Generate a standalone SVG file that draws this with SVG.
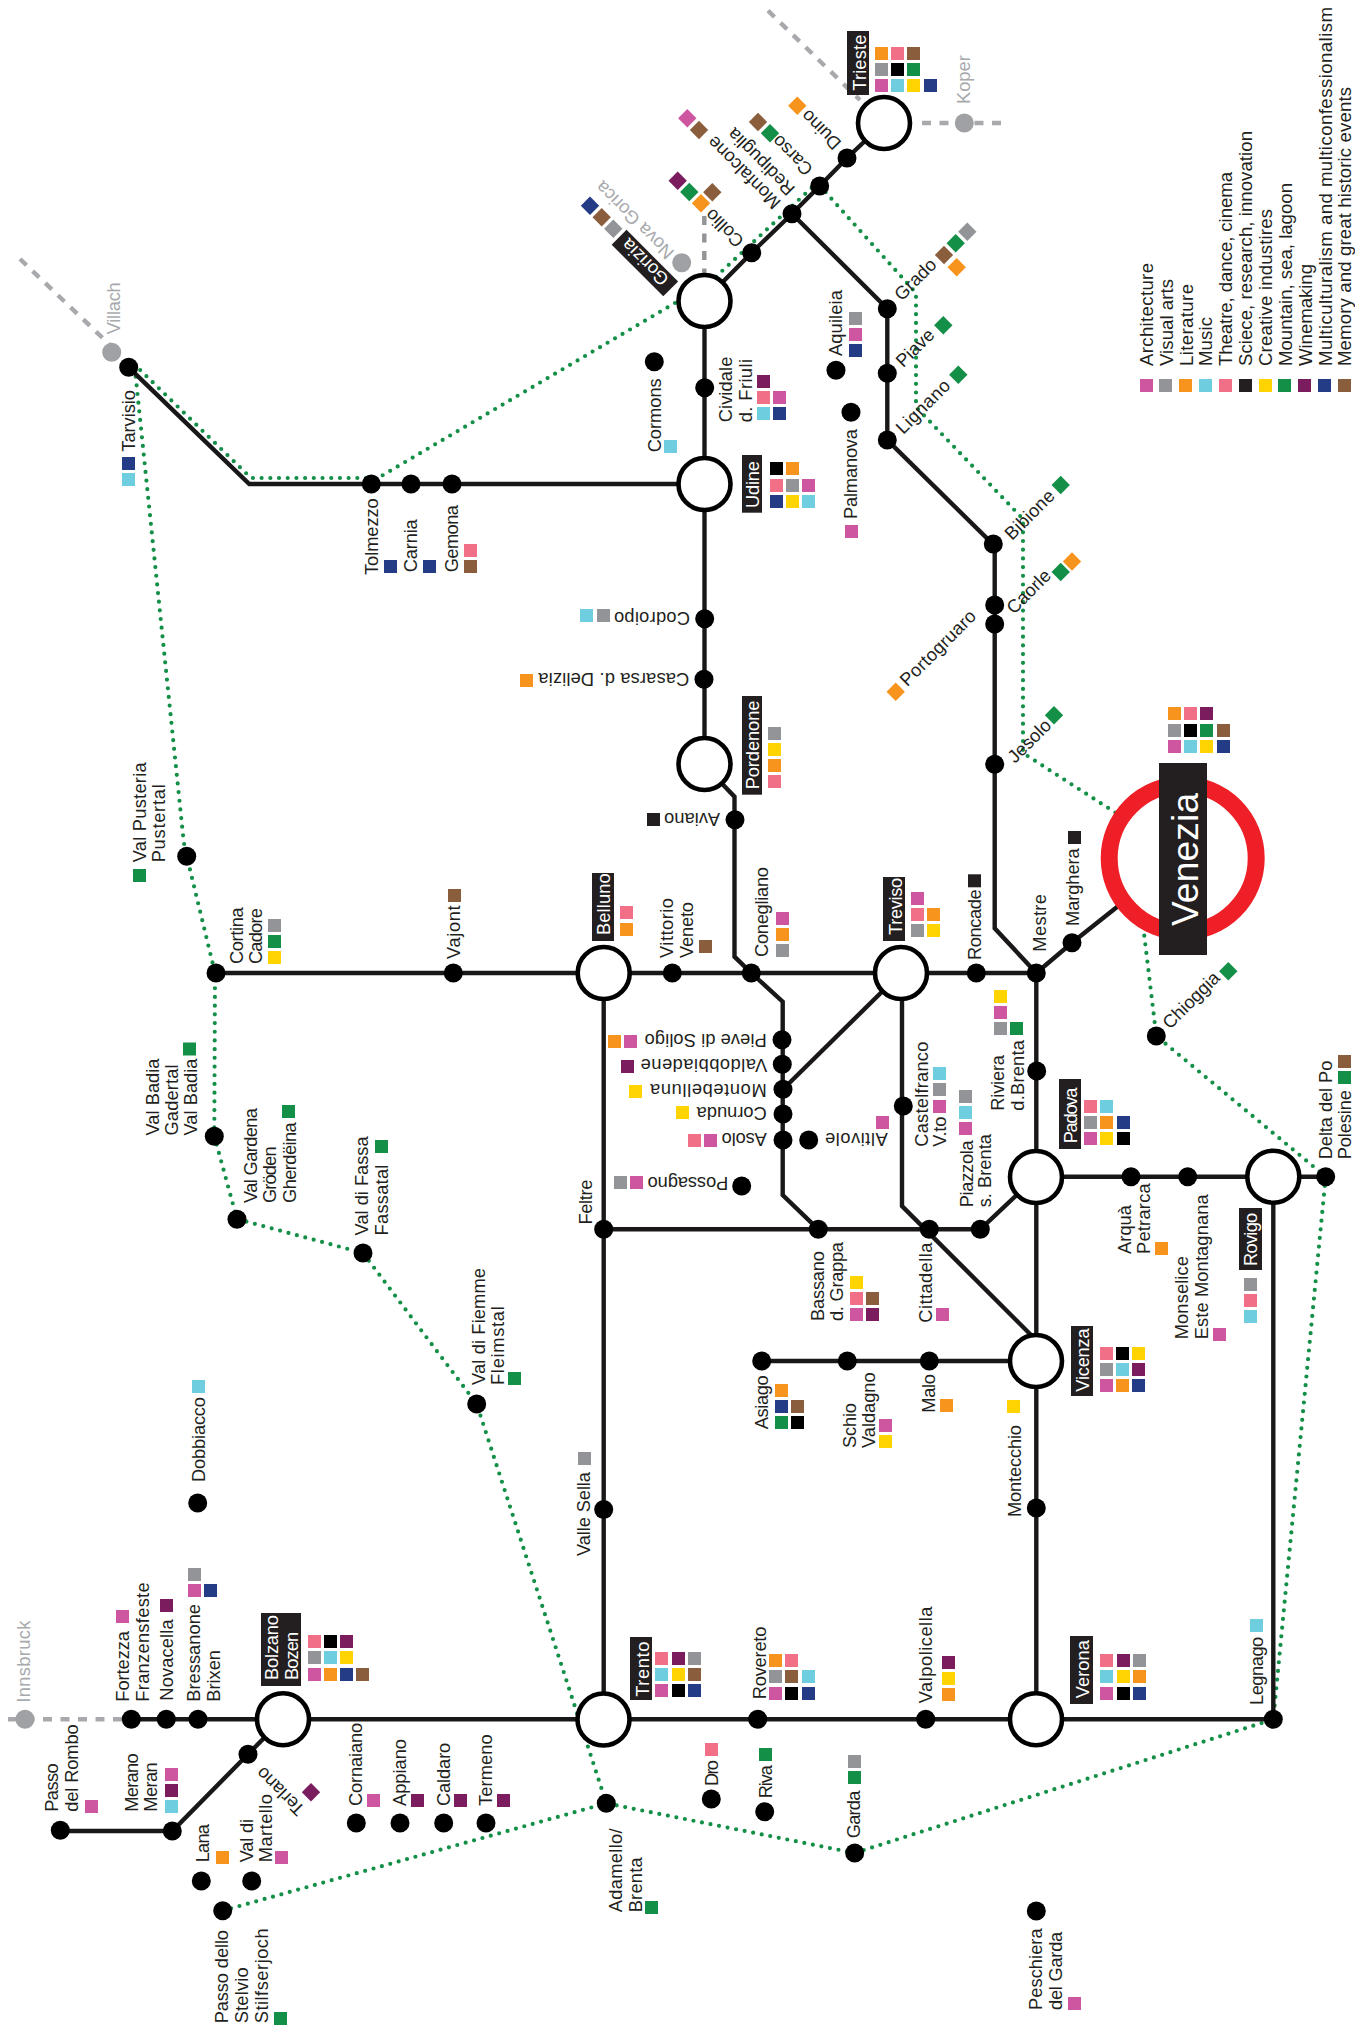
<svg xmlns="http://www.w3.org/2000/svg" width="1355" height="2033" viewBox="0 0 1355 2033">
<style>
text{font-family:"Liberation Sans",Arial,sans-serif;font-size:18.3px;fill:#231f20}
.w{fill:#fff}.g{fill:#a7a9ac}
.lg{font-size:18.6px}
.ln,.da,.dg,.do{fill:none}
.ln{stroke:#1a1718;stroke-width:4.4}
.da{stroke:#a7a9ac;stroke-width:4.4;stroke-dasharray:9 8.5}
.dg{stroke:#929497;stroke-width:4.4;stroke-dasharray:9 8.5}
.do{stroke:#138f47;stroke-width:4.2;stroke-linecap:round;stroke-dasharray:0 8.7}
.st{fill:#fff;stroke:#000;stroke-width:4.6}
.bx{fill:#231f20}
.A{fill:#ce56a0}.V{fill:#929497}.L{fill:#f7941e}.M{fill:#6fcde0}.T{fill:#f27087}.S{fill:#000}.B{fill:#231f20}.C{fill:#ffd400}.N{fill:#138f47}.W{fill:#7a1c5e}.U{fill:#243b85}.H{fill:#8a5e3c}
</style>
<defs>
<rect id="s" width="13" height="13"/>
<rect id="d" x="-6.5" y="-6.5" width="13" height="13" transform="rotate(45)"/>
<circle id="p" r="9.5"/>
<circle id="q" r="9.5" fill="#a0a1a4"/>
<circle id="o" r="26" class="st"/>
</defs>
<g id="connectors">
<path class="do" d="M675 303L378 478L251 478L136 366"/>
<path class="do" d="M135.7 376.7L183.7 841.7L186.7 856L215 973L214.3 1136L237 1219L363 1253L476.7 1404L606.3 1803.3"/>
<path class="do" d="M222.7 1910.7L606.3 1803.3L854.7 1853L1273.3 1719.3L1325.7 1176.7L1156.3 1036L1143 925"/>
<path class="do" d="M1130 822L1023 753V519L916 407V293L820 186"/>
<path class="do" d="M818 182L721 272L715 278"/>
<path class="ln" d="M884 123L847 158L819.7 186L792 213.7L751.7 252.7L704 301"/>
<path class="ln" d="M792 213.7L887.3 308.7V440L994.7 546V928.3L1036.3 973"/>
<path class="ln" d="M704.5 301V764"/>
<path class="ln" d="M704 764L723.3 785L734.5 796.7V956.7L751.3 973L782.7 1001.7V1195L818.3 1229.3"/>
<path class="ln" d="M128.7 367.3L249.3 484H704"/>
<path class="ln" d="M216 973H1036.3"/>
<path class="ln" d="M1036.3 973L1072 942.7L1117.3 906.7"/>
<path class="ln" d="M1036.3 973V1719"/>
<path class="ln" d="M603.7 973V1719"/>
<path class="ln" d="M901 973L783 1089.3"/>
<path class="ln" d="M902 973V1206L1036 1340"/>
<path class="ln" d="M603.7 1229.3H980.3L1035.7 1177"/>
<path class="ln" d="M761.7 1361H1036"/>
<path class="ln" d="M1036 1176.7H1325.7"/>
<path class="ln" d="M1273.3 1177V1719"/>
<path class="ln" d="M131.3 1719.3H1273.3"/>
<path class="ln" d="M283 1719L248 1754.3L172.3 1831H60.3"/>
<path class="da" d="M768 10.7L860 100"/>
<path class="da" d="M922 123H1001"/>
<path class="da" d="M20 259L110 345"/>
<path class="da" d="M8 1719.3H122"/>
<path class="dg" d="M704.3 216V273"/>
</g>
<g id="legend">
<use href="#s" x="1140" y="379" class="A"/><use href="#s" x="1159" y="379" class="V"/><use href="#s" x="1179" y="379" class="L"/><use href="#s" x="1199" y="379" class="M"/><use href="#s" x="1219" y="379" class="T"/><use href="#s" x="1239" y="379" class="B"/><use href="#s" x="1259" y="379" class="C"/><use href="#s" x="1278" y="379" class="N"/><use href="#s" x="1298" y="379" class="W"/><use href="#s" x="1318" y="379" class="U"/><use href="#s" x="1338" y="379" class="H"/>
<text class="lg" textLength="103" transform="translate(1152.7 366) rotate(-90)">Architecture</text>
<text class="lg" textLength="87" transform="translate(1172.5 366) rotate(-90)">Visual arts</text>
<text class="lg" textLength="82" transform="translate(1192.5 366) rotate(-90)">Literature</text>
<text class="lg" textLength="49" transform="translate(1212.3 366) rotate(-90)">Music</text>
<text class="lg" textLength="194" transform="translate(1232.3 366) rotate(-90)">Theatre, dance, cinema</text>
<text class="lg" textLength="235" transform="translate(1252.3 366) rotate(-90)">Sciece, research, innovation</text>
<text class="lg" textLength="157" transform="translate(1271.7 366) rotate(-90)">Creative industires</text>
<text class="lg" textLength="183" transform="translate(1291.7 366) rotate(-90)">Mountain, sea, lagoon</text>
<text class="lg" textLength="102" transform="translate(1311.7 366) rotate(-90)">Winemaking</text>
<text class="lg" textLength="359" transform="translate(1331.7 366) rotate(-90)">Multiculturalism and multiconfessionalism</text>
<text class="lg" textLength="279" transform="translate(1351 366) rotate(-90)">Memory and great historic events</text>
</g>
<g id="n-trieste"><use href="#o" x="884" y="123"/><rect class="bx" x="847" y="31" width="22" height="64"/><text class="w" textLength="56" transform="translate(865.5 90.7) rotate(-90)">Trieste</text>
<use href="#s" x="875" y="47" class="L"/><use href="#s" x="891" y="47" class="T"/><use href="#s" x="907" y="47" class="H"/><use href="#s" x="875" y="63" class="V"/><use href="#s" x="891" y="63" class="S"/><use href="#s" x="907" y="63" class="N"/><use href="#s" x="875" y="79" class="A"/><use href="#s" x="891" y="79" class="M"/><use href="#s" x="907" y="79" class="C"/><use href="#s" x="924" y="79" class="U"/></g>
<g id="n-koper"><use href="#q" x="964.3" y="123"/><text class="g" transform="translate(970 104) rotate(-90)">Koper</text></g>
<g id="n-villach"><use href="#q" x="111.7" y="352.3"/><text class="g" textLength="52" transform="translate(120 334.3) rotate(-90)">Villach</text></g>
<g id="n-innsbruck"><use href="#q" x="25" y="1719.3"/><text class="g" textLength="82" transform="translate(30 1702.7) rotate(-90)">Innsbruck</text></g>
<g id="n-novagorica"><use href="#q" x="681.7" y="262.7"/><text class="g" transform="translate(675 251.7) rotate(-135)">Nova Gorica</text></g>
<g id="n-duino"><use href="#p" x="847" y="158"/><text transform="translate(842.3 142.3) rotate(-135)">Duino</text><use href="#d" x="797.3" y="105.7" class="L"/></g>
<g id="n-carso"><use href="#p" x="819.7" y="186"/><text transform="translate(814 168.3) rotate(-135)">Carso</text><use href="#d" x="758" y="122" class="H"/><use href="#d" x="770" y="133.3" class="N"/></g>
<g id="n-monfalcone"><use href="#p" x="792" y="213.7"/><text transform="translate(796 188) rotate(-135)">Redipuglia</text><text transform="translate(781.7 201.7) rotate(-135)">Monfalcone</text><use href="#d" x="687.3" y="118.3" class="A"/><use href="#d" x="699" y="130" class="H"/></g>
<g id="n-collio"><use href="#p" x="751.7" y="252.7"/><text transform="translate(745 240) rotate(-135)">Collio</text><use href="#d" x="677.7" y="180.7" class="W"/><use href="#d" x="689.3" y="192" class="N"/><use href="#d" x="701" y="203.3" class="L"/><use href="#d" x="712.3" y="192.3" class="H"/></g>
<g id="n-gorizia"><use href="#o" x="704.5" y="301"/><g transform="translate(670 278.3) rotate(-135)"><rect class="bx" x="-8" y="-17.5" width="73" height="21"/><text class="w">Gorizia</text></g><use href="#d" x="590" y="205.7" class="U"/><use href="#d" x="601.7" y="217.3" class="H"/><use href="#d" x="613.3" y="228.7" class="V"/></g>
<g id="n-grado"><use href="#p" x="887.3" y="308.7"/><text transform="translate(901.7 301.7) rotate(-45)">Grado</text><use href="#d" x="967.3" y="231.7" class="V"/><use href="#d" x="955.7" y="243.3" class="N"/><use href="#d" x="944" y="255" class="H"/><use href="#d" x="956.7" y="267.3" class="L"/></g>
<g id="n-piave"><use href="#p" x="887.3" y="373.3"/><text transform="translate(903.3 368.3) rotate(-45)">Piave</text><use href="#d" x="943.3" y="325.3" class="N"/></g>
<g id="n-lignano"><use href="#p" x="887.3" y="440"/><text textLength="68" transform="translate(903.3 435) rotate(-45)">Lignano</text><use href="#d" x="958.3" y="374.7" class="N"/></g>
<g id="n-bibione"><use href="#p" x="993.3" y="544"/><text textLength="62" transform="translate(1012 541) rotate(-45)">Bibione</text><use href="#d" x="1060.7" y="485" class="N"/></g>
<g id="n-caorle"><use href="#p" x="994.7" y="605"/><text transform="translate(1014 615) rotate(-45)">Caorle</text><use href="#d" x="1060.7" y="572" class="N"/><use href="#d" x="1072" y="561.5" class="L"/></g>
<g id="n-portogruaro"><use href="#p" x="994.7" y="624"/><text textLength="99" transform="translate(907.3 687.3) rotate(-45)">Portogruaro</text><use href="#d" x="895.7" y="691.7" class="L"/></g>
<g id="n-jesolo"><use href="#p" x="994.7" y="764.3"/><text transform="translate(1015 764) rotate(-45)">Jesolo</text><use href="#d" x="1054" y="715.3" class="N"/></g>
<g id="n-chioggia"><use href="#p" x="1156.3" y="1036"/><text transform="translate(1170 1030) rotate(-45)">Chioggia</text><use href="#d" x="1228.3" y="971.3" class="N"/></g>
<g id="n-terlano"><text transform="translate(306 1808.3) rotate(-135)">Terlano</text><use href="#d" x="311" y="1792.3" class="W"/></g>
<g id="n-cormons"><use href="#p" x="654.3" y="361.7"/><text textLength="74" transform="translate(661 452.3) rotate(-90)">Cormons</text><use href="#s" x="664" y="440" class="M"/></g>
<g id="n-cividale"><use href="#p" x="704.7" y="387.7"/><text transform="translate(731.7 422.3) rotate(-90)"><tspan x="0" textLength="65.7">Cividale</tspan><tspan x="0" dy="20" textLength="63.3">d. Friuli</tspan></text><use href="#s" x="757" y="375" class="W"/><use href="#s" x="757" y="391" class="T"/><use href="#s" x="773" y="391" class="A"/><use href="#s" x="757" y="407" class="M"/><use href="#s" x="773" y="407" class="U"/></g>
<g id="n-aquileia"><use href="#p" x="836" y="370.3"/><text textLength="66" transform="translate(842.3 356) rotate(-90)">Aquileia</text><use href="#s" x="849" y="312" class="V"/><use href="#s" x="849" y="328" class="A"/><use href="#s" x="849" y="344" class="U"/></g>
<g id="n-palmanova"><use href="#p" x="851" y="412.3"/><text textLength="90" transform="translate(857.3 519) rotate(-90)">Palmanova</text><use href="#s" x="845" y="525" class="A"/></g>
<g id="n-tarvisio"><use href="#p" x="128.7" y="367.3"/><text textLength="61.7" transform="translate(135 451.7) rotate(-90)">Tarvisio</text><use href="#s" x="122" y="457" class="U"/><use href="#s" x="122" y="473" class="M"/></g>
<g id="n-tolmezzo"><use href="#p" x="371.3" y="484"/><text textLength="76.7" transform="translate(378.3 575) rotate(-90)">Tolmezzo</text><use href="#s" x="384" y="560" class="U"/></g>
<g id="n-carnia"><use href="#p" x="411" y="484"/><text textLength="53" transform="translate(417.3 572.3) rotate(-90)">Carnia</text><use href="#s" x="423" y="560" class="U"/></g>
<g id="n-gemona"><use href="#p" x="452" y="484"/><text textLength="67.3" transform="translate(458.3 572.3) rotate(-90)">Gemona</text><use href="#s" x="464" y="544" class="T"/><use href="#s" x="464" y="560" class="H"/></g>
<g id="n-udine"><use href="#o" x="704.5" y="484"/><rect class="bx" x="742" y="455" width="20" height="57.7"/><text class="w" textLength="47" transform="translate(759 508) rotate(-90)">Udine</text>
<use href="#s" x="770" y="462" class="S"/><use href="#s" x="786" y="462" class="L"/><use href="#s" x="770" y="479" class="T"/><use href="#s" x="786" y="479" class="V"/><use href="#s" x="802" y="479" class="A"/><use href="#s" x="770" y="495" class="U"/><use href="#s" x="786" y="495" class="C"/><use href="#s" x="802" y="495" class="M"/></g>
<g id="n-codroipo"><use href="#p" x="704.7" y="618.7"/><text textLength="76" transform="translate(690 611.7) rotate(180)">Codroipo</text><use href="#s" x="597" y="609" class="V"/><use href="#s" x="580" y="609" class="M"/></g>
<g id="n-casarsa"><use href="#p" x="704" y="679.3"/><text textLength="151" transform="translate(689.3 672.7) rotate(180)">Casarsa d. Delizia</text><use href="#s" x="520" y="674" class="L"/></g>
<g id="n-pordenone"><use href="#o" x="704.5" y="764"/><rect class="bx" x="742" y="696" width="20" height="98.7"/><text class="w" textLength="88.7" transform="translate(759 789.3) rotate(-90)">Pordenone</text><use href="#s" x="768" y="727" class="V"/><use href="#s" x="768" y="743" class="C"/><use href="#s" x="768" y="759" class="L"/><use href="#s" x="768" y="775" class="T"/></g>
<g id="n-aviano"><use href="#p" x="735" y="819.7"/><text textLength="56" transform="translate(720 812.7) rotate(180)">Aviano</text><use href="#s" x="647" y="813" class="B"/></g>
<g id="n-valpusteria"><use href="#p" x="186.7" y="856.3"/><text transform="translate(146 862.3) rotate(-90)"><tspan x="0" textLength="100">Val Pusteria</tspan><tspan x="0" dy="19" textLength="78">Pustertal</tspan></text><use href="#s" x="133" y="869" class="N"/></g>
<g id="n-cortina"><use href="#p" x="216" y="973"/><text transform="translate(242.7 964) rotate(-90)"><tspan x="0" textLength="56.6">Cortina</tspan><tspan x="0" dy="19" textLength="55.9">Cadore</tspan></text><use href="#s" x="268" y="919" class="V"/><use href="#s" x="268" y="935" class="N"/><use href="#s" x="268" y="951" class="C"/></g>
<g id="n-vajont"><use href="#p" x="453.3" y="973"/><text textLength="53.6" transform="translate(459.7 959) rotate(-90)">Vajont</text><use href="#s" x="448" y="889" class="H"/></g>
<g id="n-belluno"><use href="#o" x="603.7" y="973"/><rect class="bx" x="592" y="873" width="22" height="68"/><text class="w" textLength="61.7" transform="translate(610.3 935) rotate(-90)">Belluno</text><use href="#s" x="620" y="906" class="T"/><use href="#s" x="620" y="923" class="L"/></g>
<g id="n-vittorio"><use href="#p" x="672.3" y="973"/><text transform="translate(673.3 958) rotate(-90)"><tspan x="0" textLength="60">Vittorio</tspan><tspan x="0" dy="19.4" textLength="56">Veneto</tspan></text><use href="#s" x="699" y="940" class="H"/></g>
<g id="n-conegliano"><use href="#p" x="751.3" y="973"/><text textLength="90" transform="translate(767.7 957) rotate(-90)">Conegliano</text><use href="#s" x="776" y="912" class="A"/><use href="#s" x="776" y="928" class="L"/><use href="#s" x="776" y="944" class="V"/></g>
<g id="n-treviso"><use href="#o" x="901" y="973"/><rect class="bx" x="883" y="877" width="22" height="64"/><text class="w" textLength="57.3" transform="translate(901.7 935) rotate(-90)">Treviso</text><use href="#s" x="911" y="892" class="A"/><use href="#s" x="911" y="908" class="T"/><use href="#s" x="927" y="908" class="L"/><use href="#s" x="911" y="924" class="V"/><use href="#s" x="927" y="924" class="C"/></g>
<g id="n-roncade"><use href="#p" x="976.3" y="973"/><text textLength="70.7" transform="translate(980.5 960) rotate(-90)">Roncade</text><use href="#s" x="968" y="874.3" class="B"/></g>
<g id="n-mestre"><use href="#p" x="1036.3" y="973"/><text textLength="57.7" transform="translate(1046 951.7) rotate(-90)">Mestre</text></g>
<g id="n-marghera"><use href="#p" x="1072" y="942.7"/><text textLength="77.7" transform="translate(1079 926) rotate(-90)">Marghera</text><use href="#s" x="1068" y="831" class="B"/></g>
<g id="n-venezia"><circle cx="1182.7" cy="858.3" r="73.5" fill="#fff" stroke="#ee1f26" stroke-width="17"/><rect class="bx" x="1159" y="763" width="48" height="192"/><text class="w" style="font-size:37px" textLength="133" transform="translate(1197.7 926) rotate(-90)">Venezia</text>
<use href="#s" x="1168" y="707" class="L"/><use href="#s" x="1184" y="707" class="T"/><use href="#s" x="1200" y="707" class="W"/><use href="#s" x="1168" y="724" class="V"/><use href="#s" x="1184" y="724" class="S"/><use href="#s" x="1200" y="724" class="N"/><use href="#s" x="1217" y="724" class="H"/><use href="#s" x="1168" y="740" class="A"/><use href="#s" x="1184" y="740" class="M"/><use href="#s" x="1200" y="740" class="C"/><use href="#s" x="1217" y="740" class="U"/></g>
<g id="n-riviera"><use href="#p" x="1036.7" y="1071"/><text transform="translate(1004.3 1110.7) rotate(-90)"><tspan x="0" textLength="55.7">Riviera</tspan><tspan x="0" dy="20" textLength="70.7">d.Brenta</tspan></text><use href="#s" x="994" y="990" class="C"/><use href="#s" x="994" y="1006" class="A"/><use href="#s" x="994" y="1022" class="V"/><use href="#s" x="1010" y="1022" class="N"/></g>
<g id="n-pieve"><use href="#p" x="782" y="1039.7"/><text textLength="122" transform="translate(766.7 1034) rotate(180)">Pieve di Soligo</text><use href="#s" x="624" y="1035" class="A"/><use href="#s" x="608" y="1035" class="L"/></g>
<g id="n-valdobbiadene"><use href="#p" x="782.3" y="1064.3"/><text textLength="126.7" transform="translate(767.3 1059) rotate(180)">Valdobbiadene</text><use href="#s" x="621" y="1060" class="W"/></g>
<g id="n-montebelluna"><use href="#p" x="783" y="1089.3"/><text textLength="116.7" transform="translate(766.7 1084) rotate(180)">Montebelluna</text><use href="#s" x="629" y="1085" class="C"/></g>
<g id="n-cornuda"><use href="#p" x="783" y="1114"/><text textLength="70" transform="translate(766.7 1107) rotate(180)">Cornuda</text><use href="#s" x="676" y="1106" class="C"/></g>
<g id="n-asolo"><use href="#p" x="783" y="1140"/><text textLength="45" transform="translate(766.7 1133.3) rotate(180)">Asolo</text><use href="#s" x="704" y="1134" class="A"/><use href="#s" x="688" y="1134" class="T"/></g>
<g id="n-altivole"><use href="#p" x="808.7" y="1140"/><text textLength="62.7" transform="translate(887.7 1133) rotate(180)">Altivole</text><use href="#s" x="876" y="1116" class="A"/></g>
<g id="n-possagno"><use href="#p" x="741.7" y="1186"/><text textLength="80.7" transform="translate(728.3 1176.7) rotate(180)">Possagno</text><use href="#s" x="630" y="1176" class="A"/><use href="#s" x="614" y="1176" class="V"/></g>
<g id="n-castelfranco"><use href="#p" x="903.3" y="1106"/><text transform="translate(928.3 1146.7) rotate(-90)"><tspan x="0" textLength="105">Castelfranco</tspan><tspan x="0" dy="18" textLength="30">V.to</tspan></text><use href="#s" x="933" y="1067" class="M"/><use href="#s" x="933" y="1083" class="V"/><use href="#s" x="933" y="1100" class="A"/></g>
<g id="n-piazzola"><use href="#p" x="980.3" y="1229.3"/><text transform="translate(972.7 1207.3) rotate(-90)"><tspan x="0" textLength="67">Piazzola</tspan><tspan x="0" dy="18" textLength="73.3">s. Brenta</tspan></text><use href="#s" x="959" y="1090" class="V"/><use href="#s" x="959" y="1106" class="M"/><use href="#s" x="959" y="1122" class="A"/></g>
<g id="n-feltre"><use href="#p" x="603.7" y="1229.3"/><text textLength="45" transform="translate(591.7 1224.5) rotate(-90)">Feltre</text></g>
<g id="n-bassano"><use href="#p" x="818.3" y="1229.3"/><text transform="translate(824 1321) rotate(-90)"><tspan x="0" textLength="70">Bassano</tspan><tspan x="0" dy="19.3" textLength="79">d. Grappa</tspan></text><use href="#s" x="850" y="1276" class="C"/><use href="#s" x="850" y="1292" class="T"/><use href="#s" x="866" y="1292" class="H"/><use href="#s" x="850" y="1308" class="A"/><use href="#s" x="866" y="1308" class="W"/></g>
<g id="n-cittadella"><use href="#p" x="929.3" y="1229.3"/><text textLength="80" transform="translate(932.3 1322.7) rotate(-90)">Cittadella</text><use href="#s" x="936" y="1308" class="A"/></g>
<g id="n-padova"><use href="#o" x="1036" y="1177"/><rect class="bx" x="1059" y="1079" width="22" height="70"/><text class="w" textLength="55.7" transform="translate(1077.3 1143.3) rotate(-90)">Padova</text><use href="#s" x="1084" y="1100" class="T"/><use href="#s" x="1100" y="1100" class="M"/><use href="#s" x="1084" y="1116" class="V"/><use href="#s" x="1100" y="1116" class="L"/><use href="#s" x="1117" y="1116" class="U"/><use href="#s" x="1084" y="1132" class="A"/><use href="#s" x="1100" y="1132" class="C"/><use href="#s" x="1117" y="1132" class="S"/></g>
<g id="n-arqua"><use href="#p" x="1131" y="1176.7"/><text transform="translate(1131 1254) rotate(-90)"><tspan x="0" textLength="49">Arquà</tspan><tspan x="0" dy="19.3" textLength="70.7">Petrarca</tspan></text><use href="#s" x="1155" y="1242" class="L"/></g>
<g id="n-monselice"><use href="#p" x="1187.7" y="1176.7"/><text transform="translate(1188.3 1339.3) rotate(-90)"><tspan x="0" textLength="83.3">Monselice</tspan><tspan x="0" dy="20" textLength="145">Este Montagnana</tspan></text><use href="#s" x="1213" y="1328" class="A"/></g>
<g id="n-rovigo"><use href="#o" x="1273.3" y="1176.7"/><rect class="bx" x="1239" y="1208" width="23" height="62"/><text class="w" textLength="53.3" transform="translate(1257.3 1266) rotate(-90)">Rovigo</text><use href="#s" x="1244" y="1278" class="V"/><use href="#s" x="1244" y="1294" class="T"/><use href="#s" x="1244" y="1310" class="M"/></g>
<g id="n-delta"><use href="#p" x="1325.7" y="1176.7"/><text transform="translate(1331.7 1159.3) rotate(-90)"><tspan x="0" textLength="98.7">Delta del Po</tspan><tspan x="0" dy="19.3" textLength="69.3">Polesine</tspan></text><use href="#s" x="1338" y="1055" class="H"/><use href="#s" x="1338" y="1071" class="N"/></g>
<g id="n-valbadia"><use href="#p" x="214.3" y="1136.3"/><text transform="translate(159.3 1135.5) rotate(-90)"><tspan x="0" textLength="77">Val Badia</tspan><tspan x="0" dy="19" textLength="71">Gadertal</tspan><tspan x="0" dy="19" textLength="77">Val Badia</tspan></text><use href="#s" x="183" y="1042.5" class="N"/></g>
<g id="n-valgardena"><use href="#p" x="237" y="1219.3"/><text transform="translate(257.3 1203) rotate(-90)"><tspan x="0" textLength="95">Val Gardena</tspan><tspan x="0" dy="19.2" textLength="56.6">Gröden</tspan><tspan x="0" dy="19.2" textLength="80.7">Gherdëina</tspan></text><use href="#s" x="282" y="1105" class="N"/></g>
<g id="n-valfassa"><use href="#p" x="363" y="1253"/><text transform="translate(368.3 1235.4) rotate(-90)"><tspan x="0" textLength="99">Val di Fassa</tspan><tspan x="0" dy="19.4" textLength="70.8">Fassatal</tspan></text><use href="#s" x="375" y="1140" class="N"/></g>
<g id="n-valfiemme"><use href="#p" x="476.7" y="1404"/><text transform="translate(485 1385) rotate(-90)"><tspan x="0" textLength="117">Val di Fiemme</tspan><tspan x="0" dy="19.4" textLength="78.8">Fleimstal</tspan></text><use href="#s" x="508" y="1372" class="N"/></g>
<g id="n-asiago"><use href="#p" x="761.7" y="1361"/><text textLength="54" transform="translate(768.3 1429.3) rotate(-90)">Asiago</text><use href="#s" x="775" y="1384" class="L"/><use href="#s" x="775" y="1400" class="U"/><use href="#s" x="791" y="1400" class="H"/><use href="#s" x="775" y="1416" class="N"/><use href="#s" x="791" y="1416" class="S"/></g>
<g id="n-schio"><use href="#p" x="847.3" y="1361"/><text transform="translate(855.7 1448) rotate(-90)"><tspan x="0" textLength="45">Schio</tspan><tspan x="0" dy="19.3" textLength="75.7">Valdagno</tspan></text><use href="#s" x="879" y="1419" class="A"/><use href="#s" x="879" y="1435" class="C"/></g>
<g id="n-malo"><use href="#p" x="929.3" y="1361"/><text textLength="38.7" transform="translate(935 1412.7) rotate(-90)">Malo</text><use href="#s" x="940" y="1399" class="L"/></g>
<g id="n-vicenza"><use href="#o" x="1036" y="1361"/><rect class="bx" x="1071" y="1326" width="22" height="70"/><text class="w" textLength="63.3" transform="translate(1089 1391.7) rotate(-90)">Vicenza</text><use href="#s" x="1100" y="1347" class="T"/><use href="#s" x="1116" y="1347" class="S"/><use href="#s" x="1132" y="1347" class="C"/><use href="#s" x="1100" y="1363" class="V"/><use href="#s" x="1116" y="1363" class="M"/><use href="#s" x="1132" y="1363" class="W"/><use href="#s" x="1100" y="1379" class="A"/><use href="#s" x="1116" y="1379" class="L"/><use href="#s" x="1132" y="1379" class="U"/></g>
<g id="n-dobbiacco"><use href="#p" x="197.7" y="1503"/><text textLength="85" transform="translate(205.3 1482) rotate(-90)">Dobbiacco</text><use href="#s" x="192" y="1380" class="M"/></g>
<g id="n-vallesella"><use href="#p" x="603.7" y="1509.5"/><text textLength="84" transform="translate(590 1556) rotate(-90)">Valle Sella</text><use href="#s" x="578" y="1452" class="V"/></g>
<g id="n-montecchio"><use href="#p" x="1036.3" y="1508"/><text textLength="92" transform="translate(1020.7 1517) rotate(-90)">Montecchio</text><use href="#s" x="1007" y="1400" class="C"/></g>
<g id="n-fortezza"><use href="#p" x="131.3" y="1719.3"/><text transform="translate(129 1701.7) rotate(-90)"><tspan x="0" textLength="70.7">Fortezza</tspan><tspan x="0" dy="20" textLength="119.3">Franzensfeste</tspan></text><use href="#s" x="116" y="1610" class="A"/></g>
<g id="n-novacella"><use href="#p" x="166.3" y="1719.3"/><text textLength="81.3" transform="translate(173.3 1700.7) rotate(-90)">Novacella</text><use href="#s" x="160" y="1599" class="W"/></g>
<g id="n-bressanone"><use href="#p" x="198" y="1719.3"/><text transform="translate(200 1701.7) rotate(-90)"><tspan x="0" textLength="97.7">Bressanone</tspan><tspan x="0" dy="20" textLength="51.7">Brixen</tspan></text><use href="#s" x="188" y="1568" class="V"/><use href="#s" x="188" y="1584" class="A"/><use href="#s" x="204" y="1584" class="U"/></g>
<g id="n-bolzano"><use href="#o" x="283" y="1719.3"/><rect class="bx" x="261" y="1613" width="40" height="73"/><text class="w" transform="translate(277.7 1680) rotate(-90)"><tspan x="0" textLength="65">Bolzano</tspan><tspan x="0" dy="20" textLength="48.3">Bozen</tspan></text>
<use href="#s" x="308" y="1635" class="T"/><use href="#s" x="324" y="1635" class="S"/><use href="#s" x="340" y="1635" class="W"/><use href="#s" x="308" y="1651" class="V"/><use href="#s" x="324" y="1651" class="M"/><use href="#s" x="340" y="1651" class="C"/><use href="#s" x="308" y="1668" class="A"/><use href="#s" x="324" y="1668" class="L"/><use href="#s" x="340" y="1668" class="U"/><use href="#s" x="356" y="1668" class="H"/></g>
<g id="n-passorombo"><use href="#p" x="60.3" y="1830.3"/><text transform="translate(58.3 1811.7) rotate(-90)"><tspan x="0" textLength="48.3">Passo</tspan><tspan x="0" dy="20" textLength="87.3">del Rombo</tspan></text><use href="#s" x="85" y="1800" class="A"/></g>
<g id="n-merano"><use href="#p" x="172.3" y="1831"/><text transform="translate(138.3 1811.7) rotate(-90)"><tspan x="0" textLength="58.3">Merano</tspan><tspan x="0" dy="19" textLength="49.3">Meran</tspan></text><use href="#s" x="165" y="1768" class="A"/><use href="#s" x="165" y="1784" class="W"/><use href="#s" x="165" y="1800" class="M"/></g>
<g id="n-branch"><use href="#p" x="248" y="1754.3"/></g>
<g id="n-lana"><use href="#p" x="201.3" y="1881"/><text textLength="38.3" transform="translate(209 1862.3) rotate(-90)">Lana</text><use href="#s" x="216" y="1851" class="L"/></g>
<g id="n-valmartello"><use href="#p" x="251.7" y="1881"/><text transform="translate(252.7 1862.3) rotate(-90)"><tspan x="0" textLength="43.3">Val di</tspan><tspan x="0" dy="19.6" textLength="68.3">Martello</tspan></text><use href="#s" x="275" y="1851" class="A"/></g>
<g id="n-stelvio"><use href="#p" x="222.7" y="1910.7"/><text transform="translate(228.3 2023.3) rotate(-90)"><tspan x="0" textLength="93.3">Passo dello</tspan><tspan x="0" dy="20" textLength="56">Stelvio</tspan><tspan x="0" dy="20" textLength="95">Stilfserjoch</tspan></text><use href="#s" x="274" y="2012" class="N"/></g>
<g id="n-cornaiano"><use href="#p" x="356.3" y="1823"/><text textLength="83.3" transform="translate(362.3 1806) rotate(-90)">Cornaiano</text><use href="#s" x="367" y="1794" class="A"/></g>
<g id="n-appiano"><use href="#p" x="400" y="1823"/><text textLength="67" transform="translate(406 1806) rotate(-90)">Appiano</text><use href="#s" x="411" y="1794" class="W"/></g>
<g id="n-caldaro"><use href="#p" x="443.7" y="1823"/><text textLength="63.3" transform="translate(450 1806) rotate(-90)">Caldaro</text><use href="#s" x="454" y="1794" class="W"/></g>
<g id="n-termeno"><use href="#p" x="486" y="1823"/><text textLength="71.7" transform="translate(492 1806) rotate(-90)">Termeno</text><use href="#s" x="497" y="1794" class="W"/></g>
<g id="n-trento"><use href="#o" x="603.5" y="1719.5"/><rect class="bx" x="630" y="1637" width="22" height="63"/><text class="w" textLength="55" transform="translate(648.7 1696.7) rotate(-90)">Trento</text><use href="#s" x="655" y="1652" class="T"/><use href="#s" x="672" y="1652" class="W"/><use href="#s" x="688" y="1652" class="V"/><use href="#s" x="655" y="1668" class="M"/><use href="#s" x="672" y="1668" class="C"/><use href="#s" x="688" y="1668" class="H"/><use href="#s" x="655" y="1684" class="A"/><use href="#s" x="672" y="1684" class="S"/><use href="#s" x="688" y="1684" class="U"/></g>
<g id="n-rovereto"><use href="#p" x="757.7" y="1719.3"/><text textLength="72.7" transform="translate(766 1699.3) rotate(-90)">Rovereto</text><use href="#s" x="769" y="1654" class="L"/><use href="#s" x="785" y="1654" class="T"/><use href="#s" x="769" y="1670" class="V"/><use href="#s" x="785" y="1670" class="H"/><use href="#s" x="802" y="1670" class="M"/><use href="#s" x="769" y="1687" class="A"/><use href="#s" x="785" y="1687" class="S"/><use href="#s" x="802" y="1687" class="U"/></g>
<g id="n-valpolicella"><use href="#p" x="925.7" y="1719.3"/><text textLength="96.7" transform="translate(932.3 1703.3) rotate(-90)">Valpolicella</text><use href="#s" x="942" y="1656" class="W"/><use href="#s" x="942" y="1672" class="C"/><use href="#s" x="942" y="1688" class="L"/></g>
<g id="n-verona"><use href="#o" x="1036" y="1719.3"/><rect class="bx" x="1070" y="1636" width="23" height="68"/><text class="w" textLength="58.3" transform="translate(1089 1698.3) rotate(-90)">Verona</text><use href="#s" x="1100" y="1654" class="T"/><use href="#s" x="1117" y="1654" class="W"/><use href="#s" x="1133" y="1654" class="V"/><use href="#s" x="1100" y="1670" class="M"/><use href="#s" x="1117" y="1670" class="C"/><use href="#s" x="1133" y="1670" class="L"/><use href="#s" x="1100" y="1687" class="A"/><use href="#s" x="1117" y="1687" class="S"/><use href="#s" x="1133" y="1687" class="U"/></g>
<g id="n-legnago"><use href="#p" x="1273.3" y="1719.3"/><text textLength="68.3" transform="translate(1263.3 1705) rotate(-90)">Legnago</text><use href="#s" x="1250" y="1619" class="M"/></g>
<g id="n-dro"><use href="#p" x="711.3" y="1799"/><text textLength="26" transform="translate(717.7 1786) rotate(-90)">Dro</text><use href="#s" x="705" y="1743" class="T"/></g>
<g id="n-riva"><use href="#p" x="764.7" y="1811.7"/><text textLength="33.3" transform="translate(771.7 1798.3) rotate(-90)">Riva</text><use href="#s" x="759" y="1748" class="N"/></g>
<g id="n-garda"><use href="#p" x="854.7" y="1853"/><text textLength="47.7" transform="translate(860 1838.3) rotate(-90)">Garda</text><use href="#s" x="848" y="1755" class="V"/><use href="#s" x="848" y="1771" class="N"/></g>
<g id="n-adamello"><use href="#p" x="606.3" y="1803.3"/><text transform="translate(621.7 1912.3) rotate(-90)"><tspan x="0" textLength="84">Adamello/</tspan><tspan x="0" dy="20" textLength="55">Brenta</tspan></text><use href="#s" x="645" y="1901" class="N"/></g>
<g id="n-peschiera"><use href="#p" x="1036.3" y="1911"/><text transform="translate(1041.7 2010) rotate(-90)"><tspan x="0" textLength="81.7">Peschiera</tspan><tspan x="0" dy="20" textLength="78.3">del Garda</tspan></text><use href="#s" x="1068" y="1997" class="A"/></g>
</svg>
